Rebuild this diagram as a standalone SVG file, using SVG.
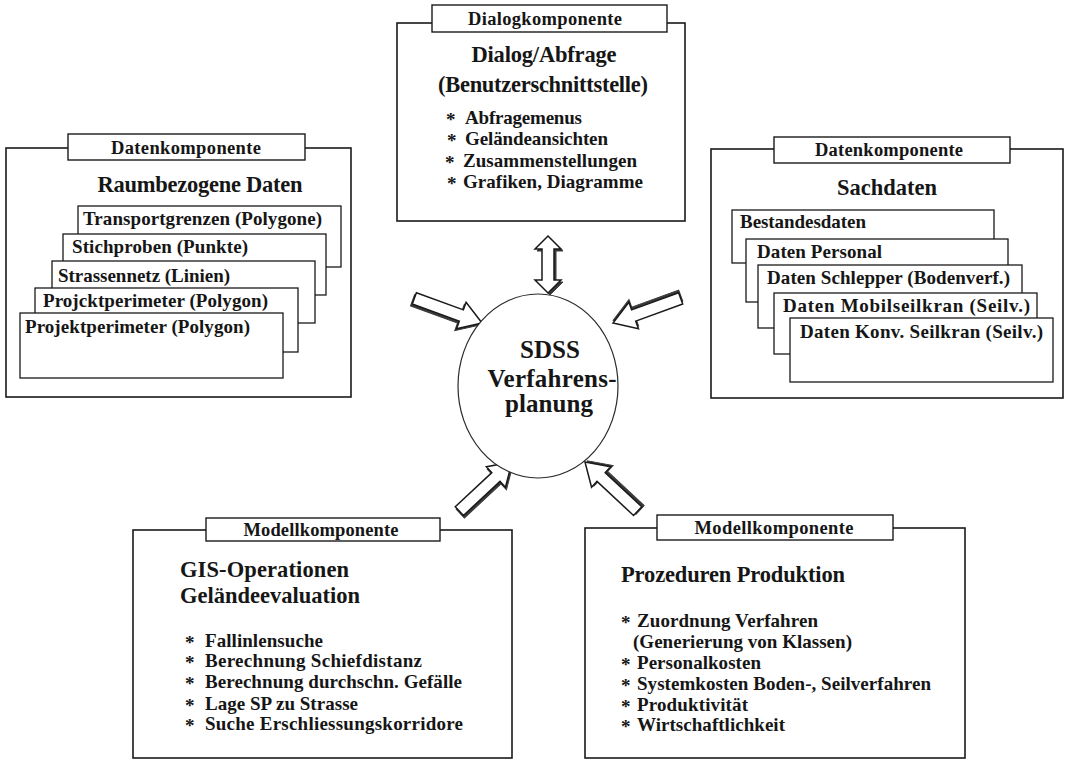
<svg xmlns="http://www.w3.org/2000/svg" xmlns:xlink="http://www.w3.org/1999/xlink" width="1074" height="761" viewBox="0 0 1074 761">
<style>
.bg{fill:#ffffff}
.box{fill:#fff;stroke:#1a1a1a;stroke-width:1.6}
.tab{fill:#fff;stroke:#1a1a1a;stroke-width:1.4}
.sub{fill:#fff;stroke:#1a1a1a;stroke-width:1.3}
.circ{fill:#fff;stroke:#2a2a2a;stroke-width:1.2}
.ash{fill:#3a3a3a;stroke:#3a3a3a;stroke-width:1}
.afill{fill:#fff;stroke:#1a1a1a;stroke-width:1.5;stroke-linejoin:miter}
text{font-family:"Liberation Serif","Times New Roman",serif;font-weight:bold;fill:#161616}
.t16{font-size:18.5px}
.h22{font-size:22.5px}
.l18{font-size:19px}
.c24{font-size:25px}
.mid{text-anchor:middle}
</style>
<defs>
<path id="arrShape" d="M0,0 L-22,-14 L-22,-6 L-72,-6 L-72,6 L-22,6 L-22,14 Z"/>
</defs>
<rect class="bg" x="0" y="0" width="1074" height="761"/>

<g id="connectors">
  <g transform="translate(482,323) rotate(20)"><use xlink:href="#arrShape" class="ash" transform="translate(-1,2.5)"/><use xlink:href="#arrShape" class="afill"/></g>
  <g transform="translate(613,323) rotate(160)"><use xlink:href="#arrShape" class="ash" transform="translate(-1,2.5)"/><use xlink:href="#arrShape" class="afill"/></g>
  <g transform="translate(512,462) rotate(-43)"><use xlink:href="#arrShape" class="ash" transform="translate(-1,2.5)"/><use xlink:href="#arrShape" class="afill"/></g>
  <g transform="translate(585,462) rotate(-137)"><use xlink:href="#arrShape" class="ash" transform="translate(-1,2.5)"/><use xlink:href="#arrShape" class="afill"/></g>
  <g id="dbl">
    <polygon class="ash" points="550,238 563,251 556,251 556,282 563,282 550,295 537,282 544,282 544,251 537,251"/>
    <polygon class="afill" points="548,236 561,249 554,249 554,280 561,280 548,293 535,280 542,280 542,249 535,249"/>
  </g>
</g>

<g id="node-dialog">
  <rect class="box" x="397" y="23" width="288" height="198"/>
  <rect class="tab" x="432" y="5" width="235" height="27"/>
  <text class="t16 mid" x="545" y="25" textLength="154" lengthAdjust="spacing">Dialogkomponente</text>
  <text class="h22 mid" x="544" y="62" textLength="145" lengthAdjust="spacing">Dialog/Abfrage</text>
  <text class="h22 mid" x="543" y="92" textLength="210" lengthAdjust="spacing">(Benutzerschnittstelle)</text>
  <text class="l18"><tspan x="446" y="126">*</tspan><tspan x="465" y="124" textLength="117" lengthAdjust="spacing">Abfragemenus</tspan></text>
  <text class="l18"><tspan x="447" y="147">*</tspan><tspan x="465" y="145" textLength="143" lengthAdjust="spacing">Geländeansichten</tspan></text>
  <text class="l18"><tspan x="445" y="169">*</tspan><tspan x="463" y="167" textLength="174" lengthAdjust="spacing">Zusammenstellungen</tspan></text>
  <text class="l18"><tspan x="447" y="190">*</tspan><tspan x="463" y="188" textLength="180" lengthAdjust="spacing">Grafiken, Diagramme</tspan></text>
</g>

<g id="node-raum">
  <rect class="box" x="6" y="148" width="345" height="249"/>
  <rect class="tab" x="68" y="134" width="237" height="26"/>
  <text class="t16 mid" x="186" y="154" textLength="150" lengthAdjust="spacing">Datenkomponente</text>
  <text class="h22 mid" x="200" y="192" textLength="205" lengthAdjust="spacing">Raumbezogene Daten</text>
  <rect class="sub" x="78" y="206" width="263" height="61"/>
  <text class="l18" x="83" y="225" textLength="239" lengthAdjust="spacing">Transportgrenzen (Polygone)</text>
  <rect class="sub" x="63" y="234" width="263" height="61"/>
  <text class="l18" x="72" y="253" textLength="176" lengthAdjust="spacing">Stichproben (Punkte)</text>
  <rect class="sub" x="52" y="261" width="263" height="62"/>
  <text class="l18" x="58" y="282" textLength="172" lengthAdjust="spacing">Strassennetz (Linien)</text>
  <rect class="sub" x="35" y="288" width="263" height="64"/>
  <text class="l18" x="43" y="307" textLength="225" lengthAdjust="spacing">Projcktperimeter (Polygon)</text>
  <rect class="sub" x="20" y="313" width="263" height="65"/>
  <text class="l18" x="25" y="333" textLength="225" lengthAdjust="spacing">Projektperimeter (Polygon)</text>
</g>

<g id="node-sach">
  <rect class="box" x="711" y="149" width="352" height="249"/>
  <rect class="tab" x="774" y="137" width="236" height="26"/>
  <text class="t16 mid" x="889" y="156" textLength="148" lengthAdjust="spacing">Datenkomponente</text>
  <text class="h22 mid" x="887" y="195" textLength="100" lengthAdjust="spacing">Sachdaten</text>
  <rect class="sub" x="732" y="210" width="262" height="53"/>
  <text class="l18" x="740" y="228" textLength="126" lengthAdjust="spacing">Bestandesdaten</text>
  <rect class="sub" x="746" y="239" width="262" height="63"/>
  <text class="l18" x="757" y="258" textLength="125" lengthAdjust="spacing">Daten Personal</text>
  <rect class="sub" x="758" y="265" width="264" height="63"/>
  <text class="l18" x="767" y="284" textLength="243" lengthAdjust="spacing">Daten Schlepper (Bodenverf.)</text>
  <rect class="sub" x="774" y="293" width="263" height="61"/>
  <text class="l18" x="783" y="312" textLength="247" lengthAdjust="spacing">Daten Mobilseilkran (Seilv.)</text>
  <rect class="sub" x="790" y="318" width="263" height="64"/>
  <text class="l18" x="800" y="338" textLength="243" lengthAdjust="spacing">Daten Konv. Seilkran (Seilv.)</text>
</g>

<g id="node-center">
  <ellipse class="circ" cx="538" cy="386" rx="80" ry="92"/>
  <text class="c24 mid" x="550" y="358" textLength="60" lengthAdjust="spacing">SDSS</text>
  <text class="c24 mid" x="552" y="387" textLength="129" lengthAdjust="spacing">Verfahrens-</text>
  <text class="c24 mid" x="549" y="412" textLength="88" lengthAdjust="spacing">planung</text>
</g>

<g id="node-gis">
  <rect class="box" x="133" y="530" width="379" height="228"/>
  <rect class="tab" x="206" y="518" width="234" height="23"/>
  <text class="t16 mid" x="321" y="536" textLength="155" lengthAdjust="spacing">Modellkomponente</text>
  <text class="h22" x="180" y="577" textLength="169" lengthAdjust="spacing">GIS-Operationen</text>
  <text class="h22" x="180" y="603" textLength="180" lengthAdjust="spacing">Geländeevaluation</text>
  <text class="l18"><tspan x="185" y="649">*</tspan><tspan x="205" y="647" textLength="118" lengthAdjust="spacing">Fallinlensuche</tspan></text>
  <text class="l18"><tspan x="185" y="669">*</tspan><tspan x="205" y="667" textLength="217" lengthAdjust="spacing">Berechnung Schiefdistanz</tspan></text>
  <text class="l18"><tspan x="185" y="690">*</tspan><tspan x="205" y="688" textLength="257" lengthAdjust="spacing">Berechnung durchschn. Gefälle</tspan></text>
  <text class="l18"><tspan x="185" y="712">*</tspan><tspan x="205" y="710" textLength="153" lengthAdjust="spacing">Lage SP zu Strasse</tspan></text>
  <text class="l18"><tspan x="185" y="732">*</tspan><tspan x="205" y="730" textLength="258" lengthAdjust="spacing">Suche Erschliessungskorridore</tspan></text>
</g>

<g id="node-prod">
  <rect class="box" x="585" y="528" width="380" height="230"/>
  <rect class="tab" x="657" y="515" width="236" height="25"/>
  <text class="t16 mid" x="774" y="534" textLength="159" lengthAdjust="spacing">Modellkomponente</text>
  <text class="h22" x="621" y="582" textLength="224" lengthAdjust="spacing">Prozeduren Produktion</text>
  <text class="l18"><tspan x="621" y="629">*</tspan><tspan x="637" y="627" textLength="181" lengthAdjust="spacing">Zuordnung Verfahren</tspan></text>
  <text class="l18" x="633" y="648" textLength="219" lengthAdjust="spacing">(Generierung von Klassen)</text>
  <text class="l18"><tspan x="621" y="671">*</tspan><tspan x="637" y="669" textLength="124" lengthAdjust="spacing">Personalkosten</tspan></text>
  <text class="l18"><tspan x="621" y="692">*</tspan><tspan x="637" y="690" textLength="294" lengthAdjust="spacing">Systemkosten Boden-, Seilverfahren</tspan></text>
  <text class="l18"><tspan x="621" y="713">*</tspan><tspan x="637" y="711" textLength="111" lengthAdjust="spacing">Produktivität</tspan></text>
  <text class="l18"><tspan x="621" y="733">*</tspan><tspan x="637" y="731" textLength="148" lengthAdjust="spacing">Wirtschaftlichkeit</tspan></text>
</g>
</svg>
